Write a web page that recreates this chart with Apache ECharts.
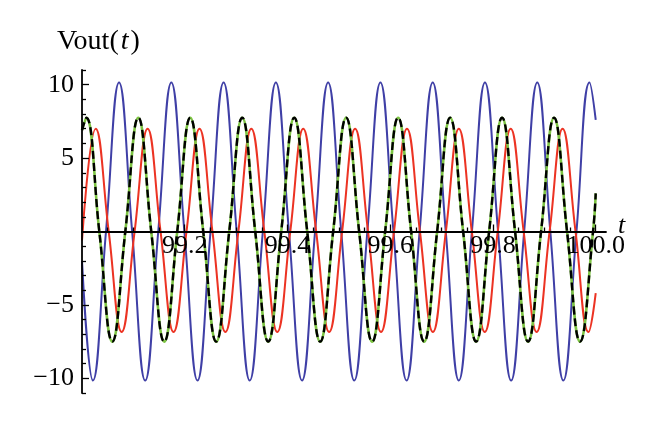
<!DOCTYPE html>
<html>
<head>
<meta charset="utf-8">
<script src="https://cdn.jsdelivr.net/npm/echarts@6/dist/echarts.min.js"></script>
<style>html,body{margin:0;padding:0;background:#fff}#c{width:660px;height:429px}</style>
</head>
<body>
<div id="c"></div>
<script>
// x-axis tick values and labels
const xMajorTicks = [99.2, 99.4, 99.6, 99.8, 100.0];
const xMinorTicks = [99.05, 99.1, 99.15, 99.25, 99.3, 99.35, 99.45, 99.5, 99.55, 99.65, 99.7, 99.75, 99.85, 99.9, 99.95];
const yMajorTicks = [-10, -5, 5, 10];
const yMinorTicks = [-11, -9, -8, -7, -6, -4, -3, -2, -1, 1, 2, 3, 4, 6, 7, 8, 9, 11];

// blue curve (read at start, troughs, zero crossings, peaks, end)
const blueT = [99.0, 99.0212, 99.0467, 99.0721, 99.0976, 99.1230, 99.1484, 99.1739, 99.1993, 99.2248, 99.2502, 99.2756, 99.3011, 99.3265, 99.3520, 99.3774, 99.4028, 99.4283, 99.4537, 99.4791, 99.5046, 99.5300, 99.5555, 99.5809, 99.6063, 99.6318, 99.6572, 99.6827, 99.7081, 99.7335, 99.7590, 99.7844, 99.8099, 99.8353, 99.8607, 99.8862, 99.9116, 99.9370, 99.9625, 99.9879, 100.0];
const blueV = [-2.0, -10.15, 0, 10.15, 0, -10.15, 0, 10.15, 0, -10.15, 0, 10.15, 0, -10.15, 0, 10.15, 0, -10.15, 0, 10.15, 0, -10.15, 0, 10.15, 0, -10.15, 0, 10.15, 0, -10.15, 0, 10.15, 0, -10.15, 0, 10.15, 0, -10.15, 0, 10.15, 7.6];

// red curve
const redT = [99.0, 99.0267, 99.0520, 99.0772, 99.1024, 99.1277, 99.1529, 99.1782, 99.2034, 99.2287, 99.2539, 99.2791, 99.3044, 99.3296, 99.3549, 99.3801, 99.4054, 99.4306, 99.4558, 99.4811, 99.5063, 99.5316, 99.5568, 99.5821, 99.6073, 99.6326, 99.6578, 99.6830, 99.7083, 99.7335, 99.7588, 99.7840, 99.8093, 99.8345, 99.8597, 99.8850, 99.9102, 99.9355, 99.9607, 99.9860, 100.0];
const redV = [-0.6, 7.0, 0, -6.85, 0, 7.0, 0, -6.85, 0, 7.0, 0, -6.85, 0, 7.0, 0, -6.85, 0, 7.0, 0, -6.85, 0, 7.0, 0, -6.85, 0, 7.0, 0, -6.85, 0, 7.0, 0, -6.85, 0, 7.0, 0, -6.85, 0, 7.0, 0, -6.85, -4.2];

// green curve (solid) and black curve (dashed) coincide
const greenT = [99.0, 99.0084, 99.0337, 99.0590, 99.0843, 99.1096, 99.1348, 99.1601, 99.1854, 99.2107, 99.2360, 99.2613, 99.2866, 99.3119, 99.3372, 99.3625, 99.3878, 99.4131, 99.4384, 99.4637, 99.4889, 99.5142, 99.5395, 99.5648, 99.5901, 99.6154, 99.6407, 99.6660, 99.6913, 99.7166, 99.7419, 99.7672, 99.7925, 99.8177, 99.8430, 99.8683, 99.8936, 99.9189, 99.9442, 99.9695, 99.9948, 100.0];
const greenV = [6.9, 7.75, 0, -7.5, 0, 7.75, 0, -7.5, 0, 7.75, 0, -7.5, 0, 7.75, 0, -7.5, 0, 7.75, 0, -7.5, 0, 7.75, 0, -7.5, 0, 7.75, 0, -7.5, 0, 7.75, 0, -7.5, 0, 7.75, 0, -7.5, 0, 7.75, 0, -7.5, 0, 2.6];
const blackT = greenT.slice();
const blackV = greenV.slice();

const FONT = 'Liberation Serif';
const zip = (t, v) => t.map((x, i) => [x, v[i]]);
const fmtY = v => (v < 0 ? '\u2212' + Math.abs(v) : String(v));

const GRID = {left: 82, right: 54, top: 70, bottom: 36};
const gridH = 429 - GRID.top - GRID.bottom;
// y range is symmetric, so y = 0 lies at the middle of the grid
const xOffset = -gridH / 2;

const chart = echarts.init(document.getElementById('c'), null, {renderer: 'canvas'});
const baseX = {
  type: 'value', gridIndex: 0, min: 99, max: 100.02, position: 'bottom', offset: xOffset, z: 10,
  splitLine: {show: false}
};
const baseY = {
  type: 'value', gridIndex: 0, min: -11, max: 11, position: 'left', z: 10,
  splitLine: {show: false}
};
chart.setOption({
  animation: false,
  backgroundColor: '#ffffff',
  grid: Object.assign({containLabel: false}, GRID),
  xAxis: [
    Object.assign({}, baseX, {
      axisLine: {show: true, onZero: false, lineStyle: {color: '#000', width: 1.8}},
      axisTick: {show: true, inside: true, length: 4, customValues: xMinorTicks, lineStyle: {color: '#000', width: 1.3}},
      axisLabel: {show: true, customValues: xMajorTicks, margin: 2, color: '#000', fontFamily: FONT, fontSize: 26,
                  formatter: v => v.toFixed(1)}
    }),
    Object.assign({}, baseX, {
      axisLine: {show: false, onZero: false},
      axisTick: {show: true, inside: true, length: 7, customValues: xMajorTicks, lineStyle: {color: '#000', width: 1.3}},
      axisLabel: {show: false}
    })
  ],
  yAxis: [
    Object.assign({}, baseY, {
      axisLine: {show: true, onZero: false, lineStyle: {color: '#000', width: 1.8}},
      axisTick: {show: true, inside: true, length: 4, customValues: yMinorTicks, lineStyle: {color: '#000', width: 1.3}},
      axisLabel: {show: true, customValues: yMajorTicks, margin: 8, color: '#000', fontFamily: FONT, fontSize: 26,
                  formatter: fmtY}
    }),
    Object.assign({}, baseY, {
      axisLine: {show: false, onZero: false},
      axisTick: {show: true, inside: true, length: 7, customValues: yMajorTicks, lineStyle: {color: '#000', width: 1.3}},
      axisLabel: {show: false}
    })
  ],
  graphic: [
    {type: 'text', left: 57, top: 28, z: 10,
     style: {text: 'Vout({i|t})', fill: '#000', fontFamily: FONT, fontSize: 28,
             rich: {i: {fontStyle: 'italic', fontFamily: FONT, fontSize: 28, fill: '#000', padding: [0, 2, 0, 2]}}}},
    {type: 'text', left: 618, top: 213, z: 10,
     style: {text: 't', fill: '#000', fontFamily: FONT, fontSize: 26, fontStyle: 'italic'}}
  ],
  series: [
    {type: 'line', xAxisIndex: 0, yAxisIndex: 0, data: zip(blueT, blueV), smooth: 0.45, showSymbol: false,
     lineStyle: {color: '#3f3fa6', width: 2}, itemStyle: {color: '#3f3fa6'}},
    {type: 'line', xAxisIndex: 0, yAxisIndex: 0, data: zip(redT, redV), smooth: 0.45, showSymbol: false,
     lineStyle: {color: '#ec3323', width: 2}, itemStyle: {color: '#ec3323'}},
    {type: 'line', xAxisIndex: 0, yAxisIndex: 0, data: zip(greenT, greenV), smooth: 0.45, showSymbol: false,
     lineStyle: {color: '#7dc443', width: 2.6}, itemStyle: {color: '#7dc443'}},
    {type: 'line', xAxisIndex: 0, yAxisIndex: 0, data: zip(blackT, blackV), smooth: 0.45, showSymbol: false,
     lineStyle: {color: '#000', width: 2.4, type: [8, 4]}, itemStyle: {color: '#000'}}
  ]
});
</script>
</body>
</html>
